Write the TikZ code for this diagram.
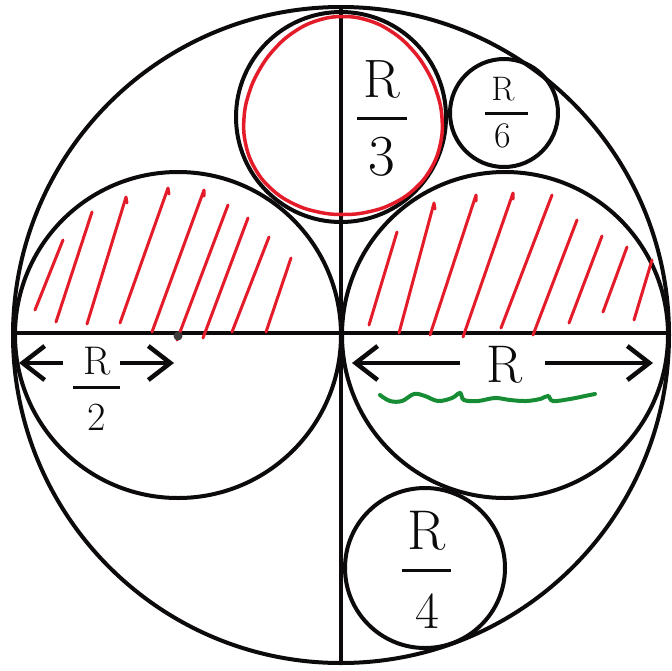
\documentclass[tikz,border=0pt]{standalone}
\usetikzlibrary{arrows.meta}
\definecolor{hred}{RGB}{228,27,40}
\definecolor{hgreen}{RGB}{22,140,52}
\definecolor{ink}{RGB}{12,10,10}
\begin{document}
\begin{tikzpicture}[x=1pt,y=-1pt,
  circ/.style={draw=ink,line width=4pt},
  axis/.style={draw=ink,line width=4.5pt},
  hatch/.style={draw=hred,line width=3pt,line cap=round,line join=round},
  dimarrow/.style={draw=ink,line width=4.5pt,-{Straight Barb[length=22pt,width=34pt,line width=4.5pt]}},
  lbl/.style={inner sep=0pt,text=ink},
  bar/.style={draw=ink,line width=3pt}]
\useasboundingbox (0,0) rectangle (672,670);
% circles
\draw[circ] (341,335) circle[radius=328pt];
\draw[circ] (178,335) circle[radius=163pt];
\draw[circ] (505,335) circle[radius=163pt];
\draw[circ] (341,117) circle[radius=105pt];
\draw[circ] (504,113) circle[radius=54pt];
\draw[circ] (425,568) circle[radius=80pt];
% axes
\coordinate (vt) at (341,8);
\coordinate (vb) at (341,664);
\coordinate (hl) at (14,333);
\coordinate (hr) at (668,333);
\draw[axis] (vt) -- (vb);
\draw[axis] (hl) -- (hr);
% red circle (hand drawn)
\draw[draw=hred,line width=3.5pt,smooth cycle,tension=0.7] plot[domain=0:345,samples=24]
 ({343+(99+2.5*sin(3*\x))*cos(\x)},{118+(99+2.5*sin(3*\x))*sin(\x)});
% hatching left
\draw[hatch] (35,310) -- (63,240);
\draw[hatch] (56,322) -- (92,212);
\draw[hatch] (87,324) -- (126,197) -- (127,203);
\draw[hatch] (120,323) -- (168,188) -- (169,194);
\draw[hatch] (152,332) -- (204,190) -- (204,196);
\draw[hatch] (177,340) -- (228,205);
\draw[hatch] (203,338) -- (248,218);
\draw[hatch] (232,332) -- (269,237);
\draw[hatch] (266,332) -- (291,258);
% hatching right
\draw[hatch] (369,325) -- (397,232);
\draw[hatch] (399,333) -- (434,203) -- (435,209);
\draw[hatch] (430,335) -- (476,195) -- (476,201);
\draw[hatch] (463,337) -- (513,193) -- (513,199);
\draw[hatch] (501,328) -- (552,195);
\draw[hatch] (533,335) -- (577,220);
\draw[hatch] (569,323) -- (602,236);
\draw[hatch] (603,312) -- (627,247);
\draw[hatch] (634,320) -- (652,260);
% dot
\fill[fill=ink!80] (178,336) circle[radius=4.5pt];
% arrows R/2
\coordinate (a1s) at (63,363);
\coordinate (a1e) at (19,363);
\coordinate (a2s) at (120,363);
\coordinate (a2e) at (174,363);
\draw[dimarrow] (a1s) -- (a1e);
\draw[dimarrow] (a2s) -- (a2e);
% arrows R
\coordinate (b1s) at (460,363);
\coordinate (b1e) at (352,363);
\coordinate (b2s) at (545,363);
\coordinate (b2e) at (653,363);
\draw[dimarrow] (b1s) -- (b1e);
\draw[dimarrow] (b2s) -- (b2e);
% labels
\node[lbl,font=\fontsize{40}{40}\selectfont] (r2n) at (97,361) {R};
\draw[bar] (73,387) -- (120,387);
\node[lbl,font=\fontsize{40}{40}\selectfont] (r2d) at (97,417) {2};
\node[lbl,font=\fontsize{53}{53}\selectfont] (rr) at (505,365) {R};
\node[lbl,font=\fontsize{54}{54}\selectfont] (r3n) at (382,79) {R};
\draw[bar] (357,118) -- (407,118);
\node[lbl,font=\fontsize{58}{58}\selectfont] (r3d) at (382,157) {3};
\node[lbl,font=\fontsize{34}{34}\selectfont] (r6n) at (503,89) {R};
\draw[bar] (485,113) -- (528,113);
\node[lbl,font=\fontsize{36}{36}\selectfont] (r6d) at (503,136) {6};
\node[lbl,font=\fontsize{56}{56}\selectfont] (r4n) at (427,531) {R};
\draw[bar] (402,570) -- (451,570);
\node[lbl,font=\fontsize{52}{52}\selectfont] (r4d) at (427,611) {4};
% green wave
\draw[draw=hgreen,line width=4pt,line cap=round,smooth,tension=0.6] plot coordinates {
 (380,395) (390,401) (402,401) (414,394) (425,396) (438,401) (452,398) (460,393) (464,400) (478,401) (495,398) (510,400) (526,401) (540,399) (548,396) (553,401) (570,399) (585,396) (595,394)};
\end{tikzpicture}
\end{document}
